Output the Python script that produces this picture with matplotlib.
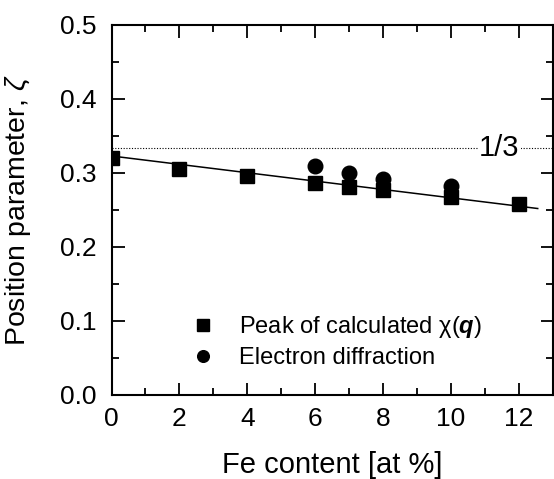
import matplotlib
matplotlib.use("Agg")
import matplotlib.pyplot as plt
from matplotlib.ticker import MultipleLocator

plt.rcParams["font.family"] = "Liberation Sans"
plt.rcParams["mathtext.fontset"] = "custom"
plt.rcParams["mathtext.rm"] = "Liberation Sans"
plt.rcParams["mathtext.it"] = "Liberation Sans:italic"
plt.rcParams["mathtext.bf"] = "Liberation Sans:bold"
plt.rcParams["mathtext.bfit"] = "Liberation Sans:bold:italic"

# calculated chi(q) peak positions
calc_fe = [0, 2, 4, 6, 7, 8, 10, 12]
calc_zeta = [0.320, 0.306, 0.296, 0.287, 0.281, 0.277, 0.267, 0.258]

# electron diffraction
ed_fe = [6, 7, 8, 10]
ed_zeta = [0.310, 0.300, 0.292, 0.282]

# linear fit through the calculated points
fit_fe = [0.0, 12.55]
fit_zeta = [0.323, 0.252]

third_x = [0, 13]
third_y = [1 / 3, 1 / 3]

fig = plt.figure(figsize=(5.54, 4.79), dpi=100)
ax = fig.add_axes([111.5 / 554, 1 - 395 / 479, 441.5 / 554, 370 / 479])

ax.plot(third_x, third_y, color="black", linestyle=(0, (1, 1.5)), linewidth=0.8)
ax.text(11.42, 1 / 3, "1/3", fontsize=21, ha="center", va="center",
        bbox={"facecolor": "white", "edgecolor": "none", "pad": 1.0})
ax.plot(fit_fe, fit_zeta, color="black", linewidth=1.1)
ax.plot(calc_fe, calc_zeta, "s", color="black", markersize=10.5,
        label="Peak of calculated \u03c7(" + r"$\boldsymbol{q}$" + ")")
ax.plot(ed_fe, ed_zeta, "o", color="black", markersize=10.5,
        label="Electron diffraction")

ax.set_xlim(0, 13)
ax.set_ylim(0, 0.5)
ax.xaxis.set_major_locator(MultipleLocator(2))
ax.xaxis.set_minor_locator(MultipleLocator(1))
ax.yaxis.set_major_locator(MultipleLocator(0.1))
ax.yaxis.set_minor_locator(MultipleLocator(0.05))
ax.yaxis.set_major_formatter(lambda v, p: f"{v:.1f}")
ax.tick_params(which="both", direction="in", top=True, right=True, width=1.3)
ax.tick_params(which="major", length=9, labelsize=19, pad=9)
ax.tick_params(axis="y", which="major", pad=11)
ax.tick_params(which="minor", length=5)
for spine in ax.spines.values():
    spine.set_linewidth(1.5)

ax.set_xlabel("Fe content [at %]", fontsize=21, labelpad=14)
ax.set_ylabel(r"Position parameter, $\zeta$", fontsize=20.5, labelpad=19)

ax.legend(loc="lower left", bbox_to_anchor=(0.128, 0.012), frameon=False,
          fontsize=17, handlelength=1.2, handletextpad=0.9, labelspacing=0.3,
          markerscale=0.8)

fig.savefig("out.png", dpi=100)
